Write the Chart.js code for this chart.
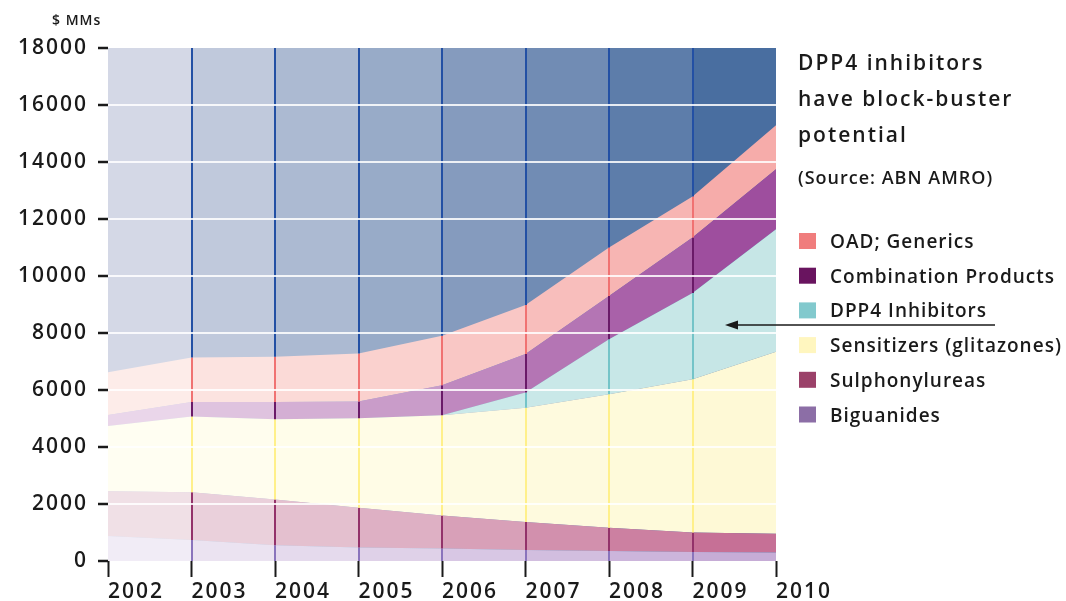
<!DOCTYPE html>
<html>
<head>
<meta charset="utf-8">
<script src="https://cdn.jsdelivr.net/npm/chart.js@4.4.0/dist/chart.umd.min.js"></script>
<style>
  html, body { margin: 0; padding: 0; background: #fff; }
</style>
</head>
<body>
<canvas id="myChart" width="1066" height="601"></canvas>
<script>
// Oral anti-diabetic market, $ MMs, stacked from the bottom up
const years = ['2002', '2003', '2004', '2005', '2006', '2007', '2008', '2009', '2010'];
const biguanides = [880, 740, 555, 470, 435, 385, 350, 315, 295];
const sulphonylureas = [1570, 1670, 1605, 1400, 1165, 985, 820, 685, 665];
const sensitizers = [2290, 2660, 2810, 3140, 3510, 4010, 4680, 5380, 6380];
const dpp4 = [0, 0, 0, 0, 0, 530, 1930, 3020, 4300];
const combination = [380, 510, 610, 590, 1060, 1350, 1520, 1950, 2110];
const generics = [1500, 1560, 1590, 1680, 1730, 1720, 1700, 1440, 1540];

const yTicks = [0, 2000, 4000, 6000, 8000, 10000, 12000, 14000, 16000, 18000];

const FONT = "'Open Sans', 'Noto Sans', sans-serif";
const INK = '#1a1a1a';

// pale = left-most column, strong = right-most column
const series = [
  { label: 'Biguanides', data: biguanides, pale: [241, 236, 246], strong: [198, 172, 214], edge: '#8a74bc', swatch: '#8c6ea6' },
  { label: 'Sulphonylureas', data: sulphonylureas, pale: [240, 224, 230], strong: [198, 112, 150], edge: '#93326a', swatch: '#9b4169' },
  { label: 'Sensitizers (glitazones)', data: sensitizers, pale: [255, 254, 242], strong: [254, 249, 214], edge: '#fff08a', swatch: '#fff6bf' },
  { label: 'DPP4 Inhibitors', data: dpp4, pale: [208, 238, 238], strong: [198, 230, 230], edge: '#74c4c8', swatch: '#82c9cd' },
  { label: 'Combination Products', data: combination, pale: [234, 214, 234], strong: [158, 78, 158], edge: '#6a1a68', swatch: '#69145f' },
  { label: 'OAD; Generics', data: generics, pale: [253, 236, 233], strong: [246, 172, 170], edge: '#f07272', swatch: '#f07d7d' },
];
const backPale = [212, 216, 230];
const backStrong = [73, 110, 160];
const backEdge = '#2350a4';

const mix = (a, b, t) => `rgb(${a.map((v, i) => Math.round(v + (b[i] - v) * t)).join(',')})`;

// one flat shade per year column, darker towards the right
const steppedFill = (pale, strong) => (context) => {
  const { chart } = context;
  const area = chart.chartArea;
  if (!area) return mix(pale, strong, 0.5);
  const x = chart.scales.x;
  const w = area.right - area.left;
  const pos = (k) => Math.min(1, Math.max(0, (x.getPixelForValue(k) - area.left) / w));
  const g = chart.ctx.createLinearGradient(area.left, 0, area.right, 0);
  const n = years.length - 1;
  for (let k = 0; k < n; k += 1) {
    const c = mix(pale, strong, k / (n - 1));
    g.addColorStop(pos(k), c);
    g.addColorStop(pos(k + 1), c);
  }
  return g;
};

const spacing = (chart) => { chart.ctx.letterSpacing = '2px'; };

const decorations = {
  id: 'decorations',
  beforeUpdate: spacing,
  beforeDraw: spacing,
  beforeDatasetsDraw(chart) {
    const { ctx, chartArea } = chart;
    const x = chart.scales.x;
    const n = years.length - 1;
    ctx.save();
    for (let k = 0; k < n; k += 1) {
      const x0 = x.getPixelForValue(k);
      const x1 = x.getPixelForValue(k + 1);
      ctx.fillStyle = mix(backPale, backStrong, k / (n - 1));
      ctx.fillRect(x0, chartArea.top, x1 - x0, chartArea.bottom - chartArea.top);
    }
    ctx.restore();
  },
  afterDatasetsDraw(chart) {
    // year dividers, coloured by the band they cross
    const { ctx, chartArea } = chart;
    const metas = series.map((s, i) => chart.getDatasetMeta(i));
    ctx.save();
    ctx.lineWidth = 2;
    for (let j = 1; j < years.length - 1; j += 1) {
      const px = Math.round(metas[0].data[j].x);
      let base = chartArea.bottom;
      metas.forEach((m, i) => {
        const top = m.data[j].y;
        if (base - top > 0.5) {
          ctx.strokeStyle = series[i].edge;
          ctx.beginPath();
          ctx.moveTo(px, base);
          ctx.lineTo(px, top);
          ctx.stroke();
        }
        base = top;
      });
      ctx.strokeStyle = backEdge;
      ctx.beginPath();
      ctx.moveTo(px, base);
      ctx.lineTo(px, chartArea.top);
      ctx.stroke();
    }
    ctx.restore();
  },
  afterDraw(chart) {
    const { ctx } = chart;
    ctx.save();
    ctx.fillStyle = INK;
    ctx.textAlign = 'left';
    ctx.textBaseline = 'alphabetic';

    ctx.letterSpacing = '1px';
    ctx.font = `600 14px ${FONT}`;
    ctx.fillText('$ MMs', 52, 25);

    ctx.letterSpacing = '2px';
    ctx.font = `600 21px ${FONT}`;
    ['DPP4 inhibitors', 'have block-buster', 'potential'].forEach((line, i) => {
      ctx.fillText(line, 798, 70 + i * 36);
    });
    ctx.letterSpacing = '1px';
    ctx.font = `600 18px ${FONT}`;
    ctx.fillText('(Source: ABN AMRO)', 798, 184);

    // legend, top band first
    ctx.font = `600 19px ${FONT}`;
    [...series].reverse().forEach((s, i) => {
      const base = 248 + i * 34.7;
      ctx.fillStyle = s.swatch;
      ctx.fillRect(799, base - 15, 17, 16);
      ctx.fillStyle = INK;
      ctx.fillText(s.label, 830, base);
    });

    // pointer from the DPP4 entry into its band
    ctx.strokeStyle = INK;
    ctx.lineWidth = 1.5;
    ctx.beginPath();
    ctx.moveTo(995, 325);
    ctx.lineTo(735, 325);
    ctx.stroke();
    ctx.beginPath();
    ctx.moveTo(725, 325);
    ctx.lineTo(738, 320.5);
    ctx.lineTo(738, 329.5);
    ctx.closePath();
    ctx.fill();
    ctx.restore();
  },
};

const ctx = document.getElementById('myChart');
// eslint-disable-next-line no-new
new Chart(ctx, {
  type: 'line',
  data: {
    labels: years,
    datasets: series.map((s, i) => ({
      label: s.label,
      data: s.data,
      fill: i === 0 ? 'origin' : '-1',
      backgroundColor: steppedFill(s.pale, s.strong),
      borderWidth: 0,
      pointRadius: 0,
      tension: 0,
    })),
  },
  options: {
    responsive: false,
    animation: false,
    layout: { padding: { top: 48, right: 290, left: 0, bottom: 0 } },
    plugins: {
      legend: { display: false },
      tooltip: { enabled: false },
    },
    scales: {
      x: {
        type: 'category',
        offset: false,
        border: { display: false },
        grid: {
          drawOnChartArea: false,
          offset: false,
          tickLength: 16,
          tickColor: INK,
          tickWidth: 2,
        },
        ticks: {
          align: 'start',
          autoSkip: false,
          maxRotation: 0,
          padding: 2,
          color: INK,
          font: { family: FONT, size: 21, weight: '600' },
        },
        afterFit(scale) { scale.height = 40; },
      },
      y: {
        stacked: true,
        min: yTicks[0],
        max: yTicks[yTicks.length - 1],
        border: { display: false },
        grid: {
          z: 1,
          color: (c) => (c.tick && (c.tick.value === yTicks[0] || c.tick.value === yTicks[yTicks.length - 1])
            ? 'rgba(255,255,255,0)' : 'rgba(255,255,255,0.85)'),
          lineWidth: 2,
          tickLength: 10,
          tickColor: INK,
          tickWidth: 2.5,
        },
        ticks: {
          stepSize: 2000,
          padding: 10,
          color: INK,
          font: { family: FONT, size: 21, weight: '600' },
          callback: (value) => String(value),
        },
        afterBuildTicks(scale) { scale.ticks = yTicks.map((v) => ({ value: v })); },
        afterFit(scale) { scale.width = 108; },
      },
    },
  },
  plugins: [decorations],
});
</script>
</body>
</html>
